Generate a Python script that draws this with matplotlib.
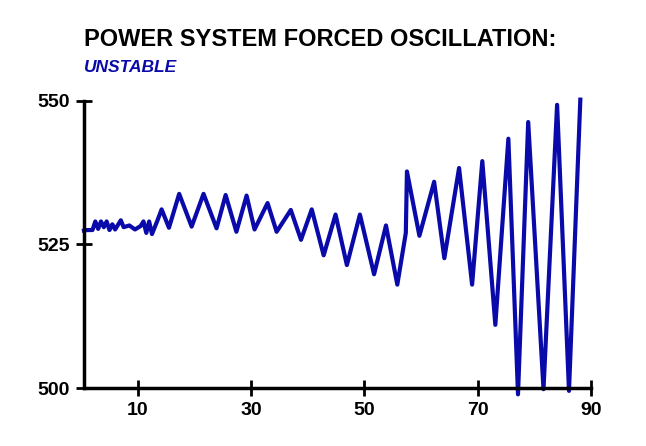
import matplotlib
matplotlib.use("Agg")
import matplotlib.pyplot as plt

# Values
time = [0.5, 1.0, 2.0, 2.5, 3.0, 3.5, 4.0, 4.5, 5.0, 5.5, 6.0, 7.0, 7.5, 8.5, 9.5, 10.5,
        11.0, 11.5, 12.0, 12.5, 13.4, 14.2, 15.5, 17.3, 19.5, 21.6, 23.9, 25.5, 27.4,
        29.2, 30.6, 32.9, 34.5, 37.0, 38.8, 40.7, 42.8, 44.9, 46.9, 49.2, 51.7, 53.8,
        55.8, 57.3, 57.5, 59.7, 62.3, 64.1, 66.7, 69.0, 70.8, 73.1, 75.4, 77.1, 78.9,
        81.6, 84.0, 86.1, 88.1]
value = [527.4, 527.5, 527.5, 529.0, 527.7, 529.0, 528.0, 529.0, 527.5, 528.5, 527.6,
         529.2, 528.0, 528.3, 527.6, 528.2, 529.0, 527.0, 529.0, 526.8, 529.0, 531.1,
         527.9, 533.8, 528.1, 533.8, 527.8, 533.6, 527.2, 533.5, 527.6, 532.2, 527.2,
         531.0, 525.8, 531.1, 523.1, 530.2, 521.4, 530.2, 519.8, 528.3, 518.0, 527.0,
         537.7, 526.5, 535.9, 522.6, 538.3, 518.0, 539.5, 511.0, 543.4, 498.9, 546.3,
         499.8, 549.3, 499.5, 550.2]
xticks = [10, 30, 50, 70, 90]
yticks = [500, 525, 550]

plt.rcParams["font.family"] = "Liberation Sans"

fig = plt.figure(figsize=(6.46, 4.46), dpi=100)
ax = fig.add_axes([0.130, 0.130, 0.785, 0.644])
ax.plot(time, value, color="#0a0aaa", lw=3.0, clip_on=False)

ax.set_xlim(0.5, 90)
ax.set_ylim(500, 550)
ax.set_xticks(xticks)
ax.set_yticks(yticks)
for s in ["top", "right"]:
    ax.spines[s].set_visible(False)
for s in ["left", "bottom"]:
    ax.spines[s].set_linewidth(2.5)
ax.tick_params(direction="inout", length=12, width=2, labelsize=14, pad=4)
for lab in ax.get_xticklabels() + ax.get_yticklabels():
    lab.set_fontweight("bold")

fig.text(0.130, 0.885, "POWER SYSTEM FORCED OSCILLATION:", fontsize=17,
         fontweight="bold", ha="left", va="bottom")
fig.text(0.130, 0.832, "UNSTABLE", fontsize=12.5, style="italic", fontweight="bold",
         color="#0a0aaa", ha="left", va="bottom")

fig.savefig("out.png", dpi=100)
